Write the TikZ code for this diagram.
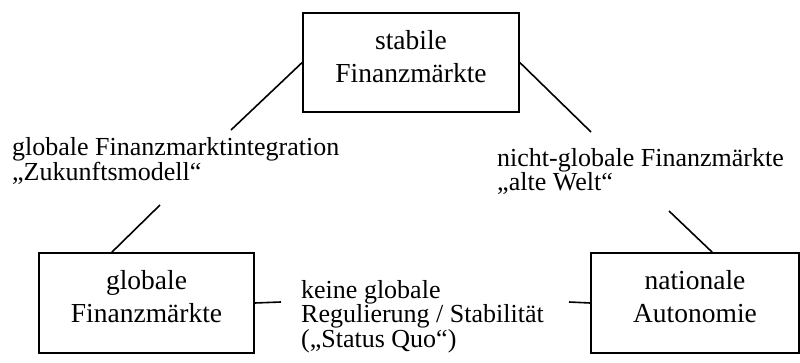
\documentclass[tikz,border=0pt]{standalone}
\usepackage{fontspec}
\setmainfont{Liberation Serif}
\usetikzlibrary{calc}
\begin{document}
\begin{tikzpicture}[x=1pt,y=-1pt,
  box/.style={draw,line width=1.6pt,inner sep=0pt,align=center,font=\fontsize{27.5}{33}\selectfont,text depth=13pt},
  lab/.style={inner sep=0pt,align=left,anchor=north west,font=\fontsize{26}{22}\selectfont},
  conn/.style={line width=1.6pt}]
\useasboundingbox (0,0) rectangle (800,363);
\node[box,minimum width=216pt,minimum height=99pt] (top) at (411,62.5) {stabile\\Finanzmärkte};
\node[box,minimum width=215pt,minimum height=100pt] (left) at (146.5,303) {globale\\Finanzmärkte};
\node[box,minimum width=208pt,minimum height=100pt] (right) at (695,303) {nationale\\Autonomie};
\node[lab] (l1) at (12,137) {globale Finanzmarktintegration\\„Zukunftsmodell“};
\node[lab] (l2) at (497,148) {nicht-globale Finanzmärkte\\„alte Welt“};
\node[lab,font=\fontsize{26}{23.5}\selectfont] (l3) at (301,280) {keine globale\\Regulierung / Stabilität\\(„Status Quo“)};
\coordinate (a1) at (231,130);
\coordinate (a2) at (591,132);
\coordinate (b1) at (160,205);
\coordinate (b2) at (669,211);
\coordinate (c1) at (281,302);
\coordinate (c2) at (569,302);
\draw[conn] (top.west) -- (a1);
\draw[conn] (top.east) -- (a2);
\draw[conn] (b1) -- ($(left.north west)!0.34!(left.north east)$);
\draw[conn] (b2) -- ($(right.north west)!0.582!(right.north east)$);
\draw[conn] (left.east) -- (c1);
\draw[conn] (c2) -- (right.west);
\end{tikzpicture}
\end{document}
